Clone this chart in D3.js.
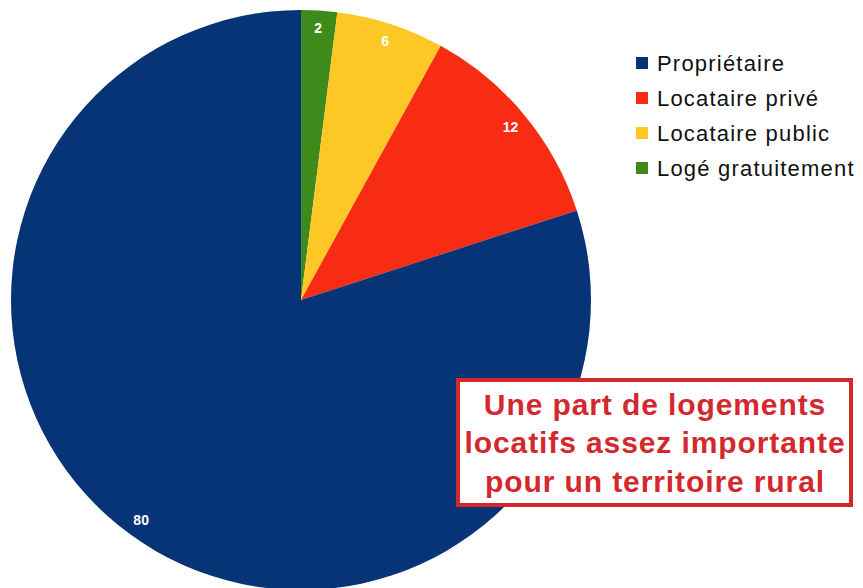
<!DOCTYPE html>
<html>
<head>
<meta charset="utf-8">
<script src="https://cdn.jsdelivr.net/npm/d3@7"></script>
<style>
  html, body { margin: 0; padding: 0; background: #fff; }
  svg { display: block; }
</style>
</head>
<body>
<div id="chart"></div>
<script>
// Data
const categories = ['Logé gratuitement', 'Locataire public', 'Locataire privé', 'Propriétaire'];
const values = [2, 6, 12, 80];
const colors = ['#3e8b1c', '#fdc825', '#f72c12', '#063477'];
const legendOrder = ['Propriétaire', 'Locataire privé', 'Locataire public', 'Logé gratuitement'];
const noteLines = ['Une part de logements', 'locatifs assez importante', 'pour un territoire rural'];

const W = 863, H = 588;
const cx = 301, cy = 300, R = 290;

const svg = d3.select('#chart').append('svg')
  .attr('width', W).attr('height', H);

const color = d3.scaleOrdinal().domain(categories).range(colors);

const data = categories.map((c, i) => ({ label: c, value: values[i] }));

// Pie, clockwise from 12 o'clock, no sorting
const pie = d3.pie().value(d => d.value).sort(null);
const arc = d3.arc().innerRadius(0).outerRadius(R);
const labelArc = d3.arc().innerRadius(272).outerRadius(272);

const g = svg.append('g').attr('transform', `translate(${cx},${cy})`);
const arcs = pie(data);

g.selectAll('path')
  .data(arcs)
  .join('path')
  .attr('d', arc)
  .attr('fill', d => color(d.data.label));

g.selectAll('text.val')
  .data(arcs)
  .join('text')
  .attr('class', 'val')
  .attr('transform', d => `translate(${labelArc.centroid(d)})`)
  .attr('text-anchor', 'middle')
  .attr('dy', '0.35em')
  .attr('fill', '#fff')
  .attr('font-family', 'Liberation Sans, Arial, sans-serif')
  .attr('font-weight', 'bold')
  .attr('font-size', 14)
  .text(d => d.data.value);

// Legend
const legend = svg.append('g').attr('transform', 'translate(636,63)');
const ly = d3.scalePoint().domain(legendOrder).range([0, 105]);
legendOrder.forEach(name => {
  const row = legend.append('g').attr('transform', `translate(0,${ly(name)})`);
  row.append('rect')
    .attr('x', 0).attr('y', -6)
    .attr('width', 12).attr('height', 12)
    .attr('fill', color(name));
  row.append('text')
    .attr('x', 21).attr('y', 0)
    .attr('dy', '0.36em')
    .attr('font-family', 'Liberation Sans, Arial, sans-serif')
    .attr('font-size', 22)
    .attr('letter-spacing', 1.2)
    .attr('fill', '#111')
    .text(name);
});

// Annotation box
const box = svg.append('g');
box.append('rect')
  .attr('x', 458).attr('y', 380)
  .attr('width', 393).attr('height', 125)
  .attr('fill', '#fff')
  .attr('stroke', '#d4282f')
  .attr('stroke-width', 4);
const ny = d3.scalePoint().domain(noteLines).range([404, 481]);
box.selectAll('text')
  .data(noteLines)
  .join('text')
  .attr('x', 655)
  .attr('y', d => ny(d))
  .attr('dy', '0.36em')
  .attr('text-anchor', 'middle')
  .attr('font-family', 'Liberation Sans, Arial, sans-serif')
  .attr('font-weight', 'bold')
  .attr('font-size', 30)
  .attr('letter-spacing', 0.9)
  .attr('fill', '#d4282f')
  .text(d => d);
</script>
</body>
</html>
